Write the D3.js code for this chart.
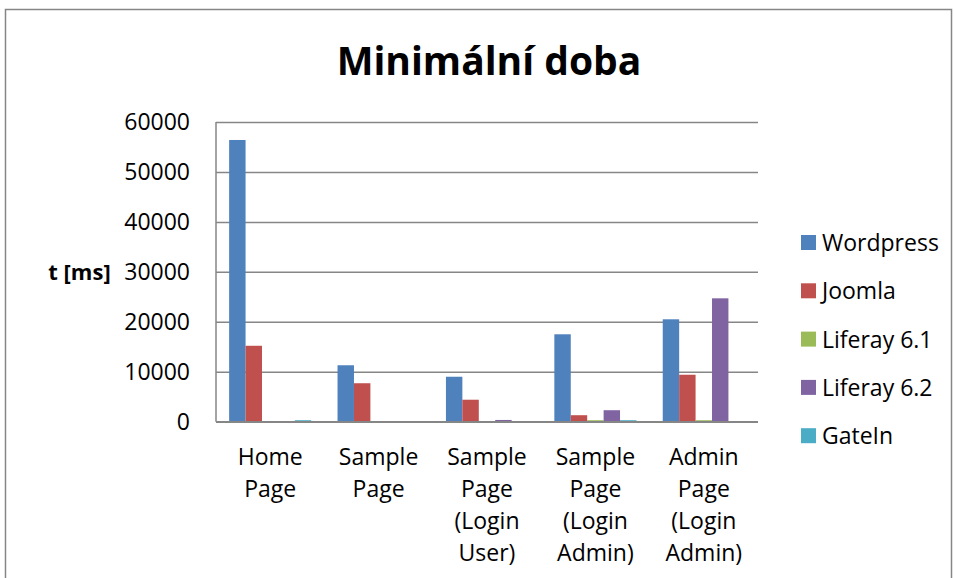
<!DOCTYPE html>
<html>
<head>
<meta charset="utf-8">
<script src="https://cdn.jsdelivr.net/npm/d3@7"></script>
<style>
  html, body { margin: 0; padding: 0; background: #fff; }
  svg { display: block; }
  text { font-family: "Open Sans", Lato, sans-serif; fill: #000; }
</style>
</head>
<body>
<svg id="chart" width="954" height="578"></svg>
<script>
// ---- data ----
const categories = ["Home Page", "Sample Page", "Sample Page (Login User)", "Sample Page (Login Admin)", "Admin Page (Login Admin)"];
const categoryLines = [
  ["Home", "Page"],
  ["Sample", "Page"],
  ["Sample", "Page", "(Login", "User)"],
  ["Sample", "Page", "(Login", "Admin)"],
  ["Admin", "Page", "(Login", "Admin)"]
];
const seriesNames = ["Wordpress", "Joomla", "Liferay 6.1", "Liferay 6.2", "GateIn"];
const wordpress  = [56400, 11300, 9000, 17500, 20500];
const joomla     = [15200, 7700, 4400, 1300, 9400];
const liferay61  = [0, 0, 100, 300, 300];
const liferay62  = [0, 0, 350, 2300, 24700];
const gatein     = [300, 100, 100, 300, 0];
const yTicks = [0, 10000, 20000, 30000, 40000, 50000, 60000];
const colors = ["#4F81BD", "#C0504D", "#9BBB59", "#8064A2", "#4BACC6"];
const titleText = "Minimální doba";
const yTitle = "t [ms]";

const seriesValues = [wordpress, joomla, liferay61, liferay62, gatein];
const rows = categories.map((c, i) => ({
  cat: c,
  vals: seriesNames.map((s, j) => ({ series: s, value: seriesValues[j][i], color: colors[j] }))
}));

// ---- layout ----
const svg = d3.select("#chart");
const plot = { left: 216, right: 758, top: 122, bottom: 421.7 };
const axisColor = "#868686";
const fontFam = "'Open Sans', Lato, sans-serif";

// outer frame
svg.append("rect")
  .attr("x", 5.5).attr("y", 9.5).attr("width", 946).attr("height", 620)
  .attr("fill", "none").attr("stroke", axisColor).attr("stroke-width", 1.5);

const x0 = d3.scaleBand().domain(categories).range([plot.left, plot.right]).paddingInner(0).paddingOuter(0);
const x1 = d3.scaleBand().domain(seriesNames).range([0, x0.bandwidth()]).paddingInner(0).paddingOuter(0.8);
const y = d3.scaleLinear().domain([0, 60000]).range([plot.bottom, plot.top]);

// gridlines
const grid = svg.append("g").attr("transform", `translate(${plot.left},0)`)
  .call(d3.axisLeft(y).tickValues(yTicks).tickSize(-(plot.right - plot.left)).tickFormat(""));
grid.select(".domain").remove();
grid.selectAll(".tick line").attr("stroke", axisColor).attr("stroke-width", 1.5);

// bars
const groups = svg.append("g").selectAll("g").data(rows).join("g")
  .attr("transform", d => `translate(${x0(d.cat)},0)`);
groups.selectAll("rect").data(d => d.vals).join("rect")
  .attr("x", d => x1(d.series))
  .attr("width", x1.bandwidth())
  .attr("y", d => y(d.value))
  .attr("height", d => y(0) - y(d.value))
  .attr("fill", d => d.color);

// y axis labels
const yAxis = svg.append("g").attr("transform", `translate(${plot.left},0)`)
  .call(d3.axisLeft(y).tickValues(yTicks).tickSize(0).tickPadding(26).tickFormat(d3.format("d")));
yAxis.select(".domain").remove();
yAxis.selectAll(".tick text")
  .style("font-family", fontFam)
  .style("font-size", "23px").attr("fill", "#000");

// axis lines
svg.append("line").attr("x1", plot.left).attr("x2", plot.left).attr("y1", plot.top).attr("y2", plot.bottom)
  .attr("stroke", axisColor).attr("stroke-width", 1.5);
svg.append("line").attr("x1", plot.left).attr("x2", plot.right).attr("y1", plot.bottom).attr("y2", plot.bottom)
  .attr("stroke", axisColor).attr("stroke-width", 1.5);

// category labels
const catLabels = svg.append("g").selectAll("text").data(categories).join("text")
  .attr("x", d => x0(d) + x0.bandwidth() / 2)
  .attr("y", 464.5)
  .attr("text-anchor", "middle")
  .style("font-size", "23px");
catLabels.each(function(d, i) {
  d3.select(this).selectAll("tspan").data(categoryLines[i]).join("tspan")
    .attr("x", x0(d) + x0.bandwidth() / 2)
    .attr("dy", (t, k) => k === 0 ? 0 : 32.3)
    .text(t => t);
});

// title
svg.append("text").attr("x", 489).attr("y", 75).attr("text-anchor", "middle")
  .style("font-size", "39px").style("font-weight", "bold").text(titleText);

// y title
svg.append("text").attr("x", 79.5).attr("y", 280).attr("text-anchor", "middle")
  .style("font-size", "22px").style("font-weight", "bold").text(yTitle);

// legend
const legend = svg.append("g").selectAll("g").data(seriesNames).join("g")
  .attr("transform", (d, i) => `translate(801,${235 + i * 48.3})`);
legend.append("rect").attr("width", 15).attr("height", 15).attr("fill", (d, i) => colors[i]);
legend.append("text").attr("x", 21).attr("y", 16).style("font-size", "23px").text(d => d);
</script>
</body>
</html>
